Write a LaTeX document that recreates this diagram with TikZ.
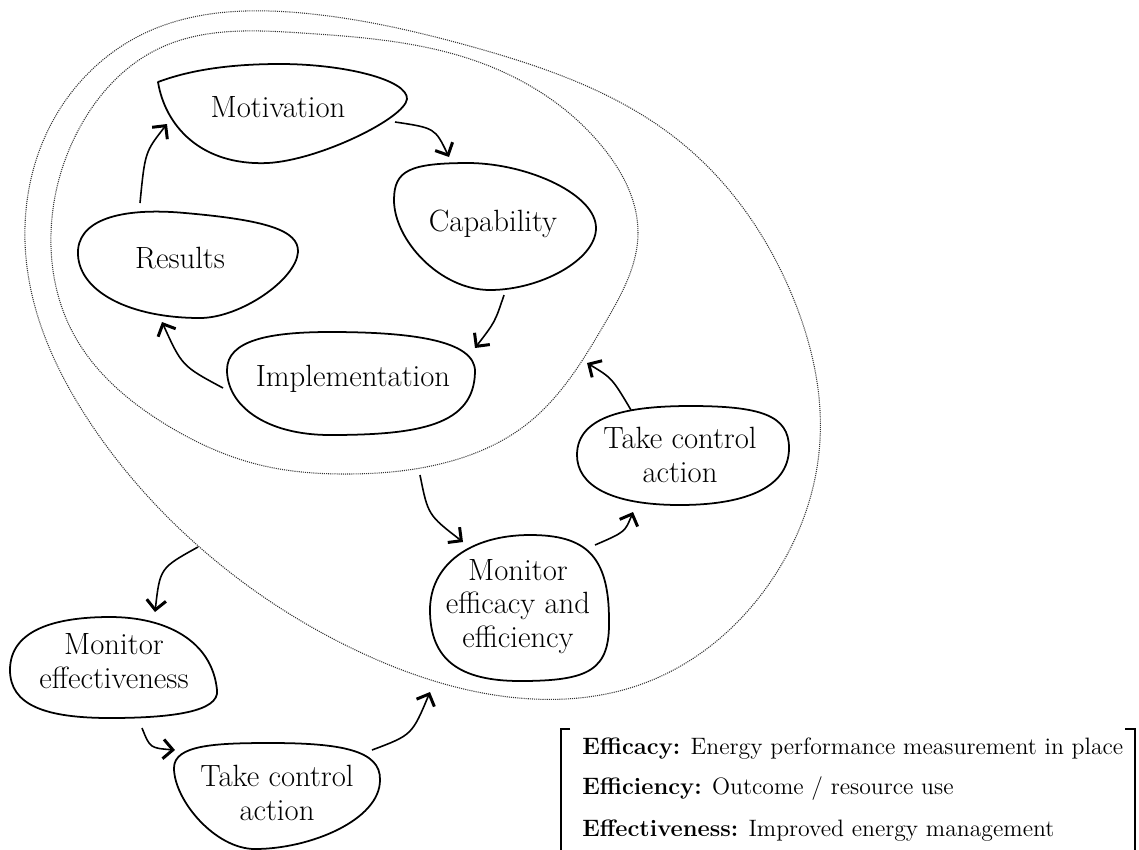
\documentclass[tikz,border=0pt]{standalone}
\usetikzlibrary{arrows.meta,hobby}
\begin{document}
\begin{tikzpicture}[x=0.02cm,y=-0.02cm,
  blob/.style={draw=black,line width=1pt,line join=round},
  zone/.style={draw=black!80,line width=0.6pt,dash pattern=on 0.6pt off 0.6pt,use Hobby shortcut,closed=true},
  flow/.style={draw=black,line width=0.9pt,-{Straight Barb[length=5.5pt,width=11pt,line width=1.7pt]}},
  lbl/.style={inner sep=0pt,align=center,anchor=base,font=\fontsize{17.5}{19}\selectfont},
  key/.style={inner sep=0pt,anchor=base west,font=\fontsize{13.5}{16}\selectfont},
]
\useasboundingbox (0,0) rectangle (1139,849);

% outer and inner dotted zones
\draw[zone] (302,13) .. (473,47) .. (678,140) .. (794,300) .. (820,440) .. (769,584)
  .. (642,684) .. (509,697) .. (364,654) .. (204,551) .. (91,424) .. (27,267)
  .. (55,117) .. (145,33);
\draw[zone] (302,33) .. (473,60) .. (605,150) .. (638,233) .. (605,323) .. (527,424)
  .. (440,464) .. (350,474) .. (260,465) .. (165,424) .. (73,333) .. (51,233)
  .. (80,127) .. (160,48);

% blobs: top, right, bottom and left points joined by cubic segments
% Motivation (pointed corner at upper left)
\draw[blob] (158,82) .. controls (190,70) and (230,64) .. (280,64)
  .. controls (345,64) and (408,80) .. (407,99)
  .. controls (405,118) and (320,160) .. (268,163)
  .. controls (200,166) and (165,125) .. (158,82) -- cycle;
% Capability
\draw[blob] (470,163) .. controls (530,164) and (596,195) .. (596,228)
  .. controls (596,260) and (540,290) .. (490,290)
  .. controls (440,290) and (394,240) .. (394,200)
  .. controls (394,170) and (410,163) .. (470,163) -- cycle;
% Results
\draw[blob] (185,213) .. controls (265,220) and (299,230) .. (298,252)
  .. controls (296,280) and (240,318) .. (200,318)
  .. controls (130,318) and (80,292) .. (78,255)
  .. controls (76,220) and (120,207) .. (185,213) -- cycle;
% Implementation
\draw[blob] (330,332) .. controls (410,332) and (476,340) .. (475,372)
  .. controls (474,425) and (420,435) .. (330,435)
  .. controls (265,435) and (227,405) .. (227,370)
  .. controls (227,340) and (270,332) .. (330,332) -- cycle;
% Monitor efficacy and efficiency
\draw[blob] (530,535) .. controls (585,535) and (609,555) .. (609,620)
  .. controls (610,670) and (590,681) .. (520,681)
  .. controls (460,681) and (430,660) .. (430,610)
  .. controls (430,565) and (470,535) .. (530,535) -- cycle;
% Take control action (right)
\draw[blob] (690,406) .. controls (760,406) and (789,415) .. (789,448)
  .. controls (789,490) and (740,505) .. (680,505)
  .. controls (610,505) and (577,485) .. (577,455)
  .. controls (577,415) and (630,406) .. (690,406) -- cycle;
% Monitor effectiveness
\draw[blob] (110,617) .. controls (165,617) and (212,640) .. (217,690)
  .. controls (220,712) and (170,718) .. (110,718)
  .. controls (45,718) and (10,705) .. (10,670)
  .. controls (10,630) and (55,617) .. (110,617) -- cycle;
% Take control action (bottom)
\draw[blob] (270,743) .. controls (340,743) and (381,750) .. (380,780)
  .. controls (380,820) and (310,849) .. (255,849)
  .. controls (215,849) and (174,800) .. (174,768)
  .. controls (174,745) and (215,743) .. (270,743) -- cycle;

% labels (multi-line nodes sit on their last baseline)
\node[lbl] (mot) at (278,117) {Motivation};
\node[lbl] (cap) at (493,231) {Capability};
\node[lbl] (res) at (180,268) {Results};
\node[lbl] (imp) at (353,386) {Implementation};
\node[lbl] (mee) at (518,647) {Monitor\\efficacy and\\efficiency};
\node[lbl] (tcr) at (680,482) {Take control\\action};
\node[lbl] (mef) at (114,688) {Monitor\\effectiveness};
\node[lbl] (tcb) at (277,820) {Take control\\action};

% connector ends
\coordinate (a1s) at (140,203); \coordinate (a1e) at (167,124);
\coordinate (a2s) at (395,122); \coordinate (a2e) at (449,157);
\coordinate (a3s) at (504,295); \coordinate (a3e) at (475,348);
\coordinate (a4s) at (223,388); \coordinate (a4e) at (162,322);
\coordinate (a5s) at (420,475); \coordinate (a5e) at (463,542);
\coordinate (a6s) at (595,545); \coordinate (a6e) at (633,512);
\coordinate (a7s) at (631,410); \coordinate (a7e) at (587,363);
\coordinate (a8s) at (198,547); \coordinate (a8e) at (155,612);
\coordinate (a9s) at (142,728); \coordinate (a9e) at (175,750);
\coordinate (a10s) at (372,750); \coordinate (a10e) at (430,692);

\draw[flow] (a1s) .. controls (145,152) .. (a1e);
\draw[flow] (a2s) .. controls (435,128) .. (a2e);
\draw[flow] (a3s) .. controls (495,322) .. (a3e);
\draw[flow] (a4s) .. controls (182,366) .. (a4e);
\draw[flow] (a5s) .. controls (428,515) .. (a5e);
\draw[flow] (a6s) .. controls (625,532) .. (a6e);
\draw[flow] (a7s) .. controls (612,378) .. (a7e);
\draw[flow] (a8s) .. controls (160,568) .. (a8e);
\draw[flow] (a9s) .. controls (150,748) .. (a9e);
\draw[flow] (a10s) .. controls (412,735) .. (a10e);

% key
\node[key] (k1) at (582,754) {\textbf{Efficacy:} Energy performance measurement in place};
\node[key] (k2) at (582,794) {\textbf{Efficiency:} Outcome / resource use};
\node[key] (k3) at (582,836) {\textbf{Effectiveness:} Improved energy management};
\draw[line width=0.9pt] (570,729) -- (561,729) -- (561,852);
\draw[line width=0.9pt] (1125,729) -- (1135,729) -- (1135,852);
\end{tikzpicture}
\end{document}
